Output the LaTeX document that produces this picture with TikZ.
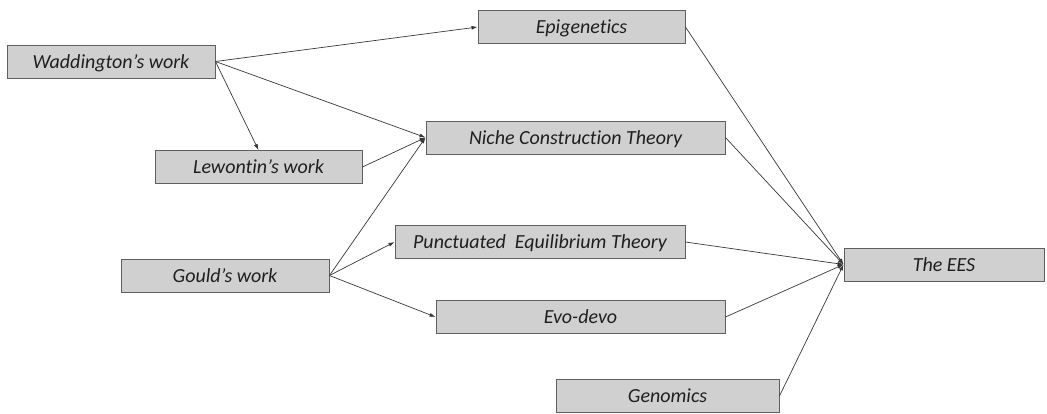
\documentclass[tikz,border=0pt]{standalone}
\usepackage{fontspec}
\setmainfont{Carlito}[Ligatures=NoCommon]
\usetikzlibrary{arrows.meta}
\definecolor{boxfill}{RGB}{208,208,208}
\definecolor{boxline}{RGB}{95,95,95}
\definecolor{linkcol}{RGB}{55,55,55}

\begin{document}
\begin{tikzpicture}[
    x=1pt, y=-1pt,
    box/.style={rectangle, draw=boxline, fill=boxfill, line width=0.9pt, minimum height=33pt, inner sep=0pt, text height=13pt, text depth=0pt, font=\fontsize{20}{22}\selectfont\itshape, text=black!88},
    link/.style={draw=linkcol, line width=0.7pt},
    arrow/.style={link, -{Latex[length=6pt,width=4pt]}}
]
\useasboundingbox (0,0) rectangle (1047,413);

% Sources
\node[box, minimum width=208pt] (wad) at (111,61.5) {Waddington’s work};
\node[box, minimum width=207pt] (lew) at (258.5,167) {Lewontin’s work};
\node[box, minimum width=208pt] (gou) at (225,275.5) {Gould’s work};

% Fields
\node[box, minimum width=207pt] (epi) at (581.5,27) {Epigenetics};
\node[box, minimum width=299pt] (nct) at (575.5,137.5) {Niche Construction Theory};
\node[box, minimum width=290pt] (pet) at (540,242) {Punctuated\ \ Equilibrium Theory};
\node[box, minimum width=289pt] (evo) at (580.5,317) {Evo-devo};
\node[box, minimum width=223pt] (gen) at (667.5,396) {Genomics};

% Target
\node[box, minimum width=200pt] (ees) at (944,264.5) {The EES};

% Arrows
\draw[arrow] (wad.east) -- (epi.west);
\draw[arrow] (wad.east) -- (lew.north);
\draw[arrow] (wad.east) -- (nct.west);
\draw[arrow] (lew.east) -- (nct.west);
\draw[arrow] (gou.east) -- (nct.west);
\draw[arrow] (gou.east) -- (pet.west);
\draw[arrow] (gou.east) -- (evo.west);

\draw[arrow] (epi.east) -- (ees.west);
\draw[arrow] (nct.east) -- (ees.west);
\draw[arrow] (pet.east) -- (ees.west);
\draw[arrow] (evo.east) -- (ees.west);
\draw[arrow] (gen.east) -- (ees.west);

\end{tikzpicture}
\end{document}
